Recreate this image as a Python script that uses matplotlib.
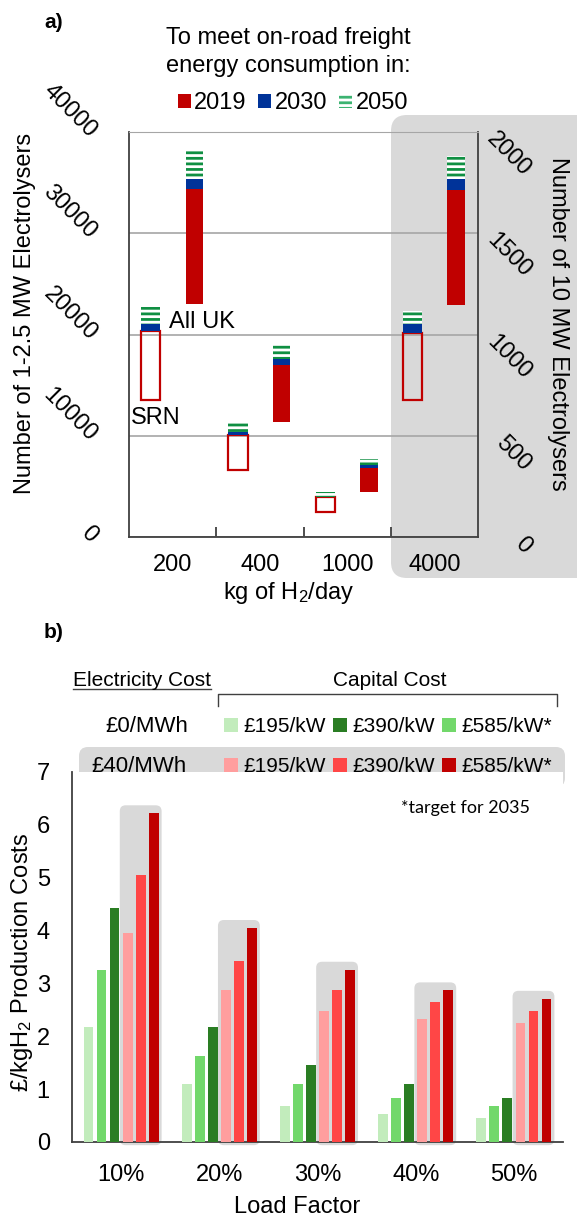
import matplotlib
matplotlib.use('Agg')
import matplotlib.pyplot as plt
import numpy as np
from matplotlib.patches import Patch, FancyBboxPatch
from matplotlib.lines import Line2D

plt.rcParams['font.family'] = ['Liberation Sans', 'DejaVu Sans']
plt.rcParams['mathtext.fontset'] = 'custom'
plt.rcParams['mathtext.rm'] = 'Liberation Sans'
plt.rcParams['mathtext.it'] = 'Liberation Sans'
plt.rcParams['hatch.linewidth'] = 2.0

# ---- panel a data (first three in 1-2.5 MW units, 4000 kg/day in 10 MW units)
sizes = ['200', '400', '1000', '4000']
right_axis = [False, False, False, True]
srn_low = [13500, 6600, 2500, 677]
srn_2019 = [20300, 10100, 3950, 1007]
srn_2030 = [21000, 10400, 3950, 1052]
srn_2050 = [22700, 11300, 4450, 1116]
uk_low = [23000, 11400, 4450, 1146]
uk_2019 = [34400, 17000, 6800, 1714]
uk_2030 = [35400, 17600, 7100, 1768]
uk_2050 = [38200, 19000, 7700, 1881]
left_ticks = [0, 10000, 20000, 30000, 40000]
right_ticks = [0, 500, 1000, 1500, 2000]

# ---- panel b data (bars drawn in this order)
load = ['10%', '20%', '30%', '40%', '50%']
green_light = [2.17, 1.09, 0.69, 0.53, 0.45]
green_mid = [3.26, 1.62, 1.09, 0.84, 0.69]
green_dark = [4.43, 2.17, 1.46, 1.09, 0.84]
red_light = [3.96, 2.87, 2.48, 2.32, 2.25]
red_mid = [5.06, 3.42, 2.87, 2.65, 2.48]
red_dark = [6.22, 4.05, 3.26, 2.87, 2.71]

RED = '#c00000'
BLUE = '#003399'
GREEN = '#0f8f42'
GREY = '#d9d9d9'
b_colors = ['#c2ecbc', '#72d86b', '#2a7d23', '#ff9e9e', '#ff4646', '#c00000']

W, H = 577, 1218
def fx(px):
    return px / W
def fy(py):
    return 1 - py / H

fig = plt.figure(figsize=(W / 100, H / 100), dpi=100)

# grey rounded backgrounds (figure level, behind axes)
def rounded(x0, y0, x1, y1, r):
    p = FancyBboxPatch((x0 / 100, (H - y1) / 100), (x1 - x0) / 100, (y1 - y0) / 100,
                       boxstyle=f'round,pad=0,rounding_size={r / 100}',
                       transform=fig.dpi_scale_trans, fc=GREY, ec='none', zorder=-5)
    fig.add_artist(p)
rounded(391, 115, 620, 578, 16)
rounded(79, 747, 565, 787, 9)

# ================= panel a =================
ax = fig.add_axes([fx(129), fy(537), (478 - 129) / W, (537 - 132) / H])
ax.set_facecolor('none')
ax2 = ax.twinx()
ax.set_xlim(-0.5, 3.5)
ax.set_ylim(0, 40000)
ax2.set_ylim(0, 2000)

x = np.arange(len(sizes))
for i in range(len(sizes)):
    a = ax2 if right_axis[i] else ax
    a.bar(x[i] - 0.25, srn_2019[i] - srn_low[i], bottom=srn_low[i], width=0.22,
          facecolor='none', edgecolor=RED, linewidth=1.6, zorder=3)
    a.bar(x[i] - 0.25, srn_2030[i] - srn_2019[i], bottom=srn_2019[i], width=0.22,
          color=BLUE, linewidth=0, zorder=3)
    a.bar(x[i] - 0.25, srn_2050[i] - srn_2030[i], bottom=srn_2030[i], width=0.22,
          facecolor='white', edgecolor=GREEN, hatch='---', linewidth=0, zorder=3)
    a.bar(x[i] + 0.25, uk_2019[i] - uk_low[i], bottom=uk_low[i], width=0.2,
          color=RED, linewidth=0, zorder=3)
    a.bar(x[i] + 0.25, uk_2030[i] - uk_2019[i], bottom=uk_2019[i], width=0.2,
          color=BLUE, linewidth=0, zorder=3)
    a.bar(x[i] + 0.25, uk_2050[i] - uk_2030[i], bottom=uk_2030[i], width=0.2,
          facecolor='white', edgecolor=GREEN, hatch='---', linewidth=0, zorder=3)

ax.set_yticks(left_ticks)
ax.set_yticklabels([])
ax.tick_params(axis='y', length=0)
ax2.set_yticks(right_ticks)
ax2.set_yticklabels([])
ax2.tick_params(axis='y', length=0)
ax.yaxis.grid(True, color='#a6a6a6', linewidth=1.2)
ax.set_axisbelow(True)
for s in ax2.spines.values():
    s.set_visible(False)
ax.spines['top'].set_color('#a6a6a6')
for s in ['left', 'right', 'bottom']:
    ax.spines[s].set_color('#404040')
    ax.spines[s].set_linewidth(1.3)

ax.set_xticks(x, sizes)
ax.set_xticks(x[:-1] + 0.5, minor=True)
ax.tick_params(axis='x', which='major', length=0, pad=12, labelsize=17)
ax.tick_params(axis='x', which='minor', direction='in', length=7, width=1.3, color='#404040')

for v in left_ticks:
    ax.annotate(str(v), xy=(0, v), xycoords=('axes fraction', 'data'),
                xytext=(-28, -10), textcoords='offset pixels', rotation=-45,
                ha='right', va='bottom', fontsize=17)
for v in right_ticks:
    ax2.annotate(str(v), xy=(1, v), xycoords=('axes fraction', 'data'),
                 xytext=(57, 4), textcoords='offset pixels', rotation=-45,
                 ha='right', va='top', fontsize=17)

ax.text(-0.04, 21200, 'All UK', ha='left', va='center', fontsize=17)
ax.text(-0.477, 11750, 'SRN', ha='left', va='center', fontsize=17)

fig.text(fx(25), fy(313), 'Number of 1-2.5 MW Electrolysers', rotation=90,
         ha='center', va='center', fontsize=17)
fig.text(fx(558), fy(324), 'Number of 10 MW Electrolysers', rotation=-90,
         ha='center', va='center', fontsize=17)
fig.text(fx(289), fy(593), 'kg of H$_2$/day', ha='center', va='center', fontsize=17)
fig.text(fx(44), fy(23), 'a)', ha='left', va='center', fontsize=15, fontweight='bold')
fig.text(fx(288), fy(52), 'To meet on-road freight\nenergy consumption in:',
         ha='center', va='center', fontsize=17, linespacing=1.3)

leg_a = [Patch(facecolor=RED, linewidth=0), Patch(facecolor=BLUE, linewidth=0),
         Patch(facecolor='white', edgecolor='#3cb371', hatch='---', linewidth=0)]
fig.legend(leg_a, ['2019', '2030', '2050'], ncol=3, loc='center',
           bbox_to_anchor=(fx(293), fy(103)), frameon=False, fontsize=17,
           handlelength=0.55, handleheight=0.55, handletextpad=0.15,
           columnspacing=0.5, borderpad=0, borderaxespad=0)

# ================= panel b =================
axb = fig.add_axes([fx(72), fy(1142), (563 - 72) / W, (1142 - 772) / H])
axb.set_xlim(-0.5, 4.5)
axb.set_ylim(0, 7)
series = [green_light, green_mid, green_dark, red_light, red_mid, red_dark]
offsets = (np.arange(6) - 2.5) * 0.133
xb = np.arange(len(load))
for k, vals in enumerate(series):
    axb.bar(xb + offsets[k], vals, width=0.1, color=b_colors[k], linewidth=0, zorder=3)

aspect = (98.2 / 52.86)
for i in range(len(load)):
    x0 = i + offsets[3] - 0.08
    x1 = i + offsets[5] + 0.08
    top = max(red_light[i], red_mid[i], red_dark[i]) + 0.15
    axb.add_patch(FancyBboxPatch((x0, -0.06), x1 - x0, top + 0.06,
                                 boxstyle='round,pad=0,rounding_size=0.06',
                                 mutation_aspect=aspect, fc=GREY, ec='none',
                                 zorder=1, clip_on=False))

axb.set_yticks(range(8))
axb.tick_params(axis='y', length=0, pad=16, labelsize=17)
axb.set_xticks(xb, load)
axb.tick_params(axis='x', length=0, pad=16, labelsize=17)
axb.spines['top'].set_visible(False)
axb.spines['right'].set_visible(False)
for s in ['left', 'bottom']:
    axb.spines[s].set_color('#404040')
    axb.spines[s].set_linewidth(1.3)

fig.text(fx(22), fy(962), '£/kgH$_2$ Production Costs', rotation=90,
         ha='center', va='center', fontsize=17)
fig.text(fx(297), fy(1207), 'Load Factor', ha='center', va='center', fontsize=17)
fig.text(fx(44), fy(632), 'b)', ha='left', va='center', fontsize=15, fontweight='bold')

t_el = fig.text(fx(73), fy(681), 'Electricity Cost', ha='left', va='center', fontsize=15)
fig.text(fx(390), fy(681), 'Capital Cost', ha='center', va='center', fontsize=15)
fig.add_artist(Line2D([2.18, 2.18, 5.57, 5.57],
                      [(H - 706) / 100, (H - 694) / 100, (H - 694) / 100, (H - 706) / 100],
                      transform=fig.dpi_scale_trans, color='#404040', lw=1))
fig.text(fx(147), fy(727), '£0/MWh', ha='center', va='center', fontsize=16)
fig.text(fx(139), fy(767), '£40/MWh', ha='center', va='center', fontsize=16)
fig.text(fx(401), fy(808), '*target for 2035', ha='left', va='center', fontsize=13,
         family=['Lato', 'DejaVu Sans'])

row1 = [Patch(facecolor=b_colors[0]), Patch(facecolor=b_colors[2]), Patch(facecolor=b_colors[1])]
row2 = [Patch(facecolor=b_colors[3]), Patch(facecolor=b_colors[4]), Patch(facecolor=b_colors[5])]
labels_b = ['£195/kW', '£390/kW', '£585/kW*']
for handles, yy in [(row1, 727), (row2, 767)]:
    fig.legend(handles, labels_b, ncol=3, loc='center left',
               bbox_to_anchor=(fx(224), fy(yy)), frameon=False, fontsize=15,
               handlelength=0.67, handleheight=0.67, handletextpad=0.25,
               columnspacing=0.35, borderpad=0, borderaxespad=0)

# underline for "Electricity Cost"
fig.canvas.draw()
bb = t_el.get_window_extent()
fig.add_artist(Line2D([bb.x0 / 100, bb.x1 / 100], [(H - 689) / 100] * 2,
                      transform=fig.dpi_scale_trans, color='#404040', lw=1))

fig.savefig('out.png', dpi=100)
